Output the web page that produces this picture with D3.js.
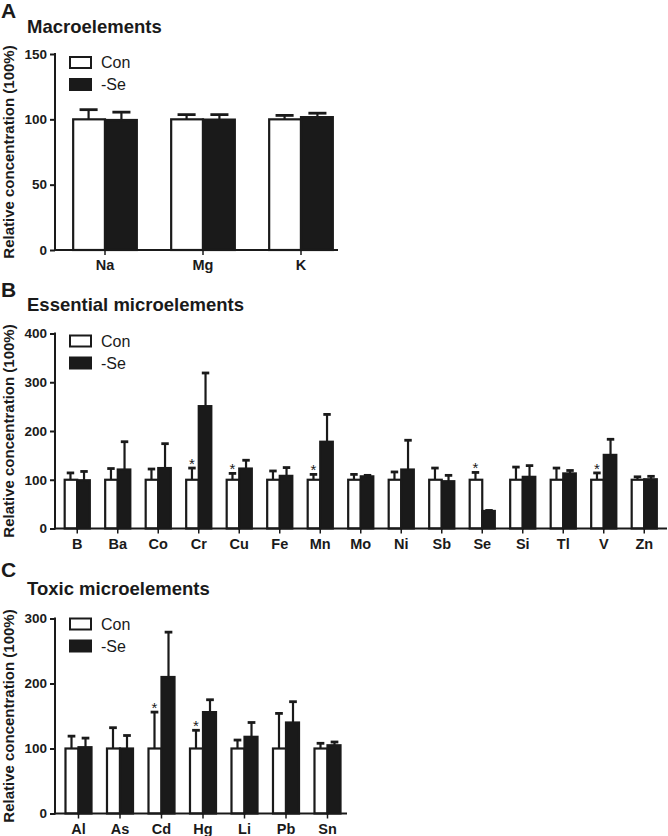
<!DOCTYPE html>
<html>
<head>
<meta charset="utf-8">
<script src="https://cdn.jsdelivr.net/npm/d3@7"></script>
<style>
  body { margin: 0; background: #fff; }
  svg { display: block; }
  text { font-family: "Liberation Sans", Arial, sans-serif; fill: #1a1a1a; }
</style>
</head>
<body>
<svg id="chart" width="668" height="836"></svg>
<script>
// ---------- data ----------
const legendLabels = ["Con", "-Se"];

const macroCats   = ["Na", "Mg", "K"];
const macroCon    = [100, 100, 100];
const macroConErr = [7.4, 3.6, 3.0];
const macroSe     = [99.5, 99.8, 101.7];
const macroSeErr  = [6.0, 3.8, 3.0];
const macroSig    = [];
const macroTicks  = [0, 50, 100, 150];

const essCats   = ["B","Ba","Co","Cr","Cu","Fe","Mn","Mo","Ni","Sb","Se","Si","Tl","V","Zn"];
const essCon    = [100,100,100,100,100,100,100,100,100,100,100,100,100,100,100];
const essConErr = [14, 23, 22, 24, 13, 18, 11, 11, 16, 24, 15, 26, 24, 14, 6];
const essSe     = [99, 121, 124, 251, 123, 108, 178, 107, 121, 97, 36, 106, 113, 151, 101];
const essSeErr  = [18, 57, 50, 68, 17, 17, 56, 2, 60, 12, 1, 23, 6, 32, 6];
const essSig    = ["Cr", "Cu", "Mn", "Se", "V"];
const essTicks  = [0, 100, 200, 300, 400];

const toxCats   = ["Al","As","Cd","Hg","Li","Pb","Sn"];
const toxCon    = [100,100,100,100,100,100,100];
const toxConErr = [19, 32, 56, 28, 13, 54, 8];
const toxSe     = [102, 100, 210, 156, 118, 140, 105];
const toxSeErr  = [14, 20, 69, 19, 22, 32, 5];
const toxSig    = ["Cd", "Hg"];
const toxTicks  = [0, 100, 200, 300];

// ---------- drawing ----------
const svg = d3.select("#chart");
const INK = "#1a1a1a";
const FONT = "'Liberation Sans', Arial, sans-serif";

function panel(cfg) {
  const g = svg.append("g");
  const x = d3.scaleBand().domain(cfg.cats).range(cfg.xr)
    .paddingInner(cfg.pad).paddingOuter(cfg.pad / 2);
  const y = d3.scaleLinear().domain([0, cfg.ticks[cfg.ticks.length - 1]]).range(cfg.yr);
  const half = x.bandwidth() / 2;
  const capW = half * 0.55;

  // letter + title
  g.append("text").attr("x", 1).attr("y", cfg.letterY).attr("font-size", 21)
    .attr("font-weight", "bold").text(cfg.letter);
  g.append("text").attr("x", 27).attr("y", cfg.titleY).attr("font-size", 18.5)
    .attr("font-weight", "bold").text(cfg.title);

  // y axis title
  const yMid = (cfg.yr[0] + cfg.yr[1]) / 2;
  g.append("text").attr("transform", `translate(14,${yMid}) rotate(-90)`)
    .attr("text-anchor", "middle").attr("font-size", 15).attr("font-weight", "bold")
    .text("Relative concentration (100%)");

  const rows = cfg.cats.map((c, i) => ({
    c, con: cfg.con[i], conErr: cfg.conErr[i], se: cfg.se[i], seErr: cfg.seErr[i],
    sig: cfg.sig.includes(c)
  }));

  // error bars
  const eb = g.append("g").attr("stroke", INK).attr("stroke-width", 2.2).attr("fill", "none");
  rows.forEach(d => {
    const cx1 = x(d.c) + half / 2, cx2 = x(d.c) + half * 1.5;
    [[cx1, d.con, d.conErr], [cx2, d.se, d.seErr]].forEach(([cx, v, e]) => {
      eb.append("line").attr("x1", cx).attr("x2", cx).attr("y1", y(v)).attr("y2", y(v + e));
      eb.append("line").attr("x1", cx - capW / 2).attr("x2", cx + capW / 2)
        .attr("y1", y(v + e)).attr("y2", y(v + e)).attr("stroke-width", 2.8);
    });
  });

  // bars
  g.append("g").selectAll("rect").data(rows).join("rect")
    .attr("x", d => x(d.c) + 1).attr("width", half - 1)
    .attr("y", d => y(d.con)).attr("height", d => y(0) - y(d.con))
    .attr("fill", "#fff").attr("stroke", INK).attr("stroke-width", 2.2);
  g.append("g").selectAll("rect").data(rows).join("rect")
    .attr("x", d => x(d.c) + half).attr("width", half - 1)
    .attr("y", d => y(d.se)).attr("height", d => y(0) - y(d.se))
    .attr("fill", INK).attr("stroke", INK).attr("stroke-width", 2.2);

  // significance asterisks
  g.append("g").selectAll("text").data(rows.filter(d => d.sig)).join("text")
    .attr("x", d => x(d.c) + half / 2).attr("y", d => y(d.con + d.conErr) + 1)
    .attr("text-anchor", "middle").attr("font-size", 15).text("*");

  // y axis
  const ya = g.append("g").attr("transform", `translate(${cfg.axisX},0)`)
    .call(d3.axisLeft(y).tickValues(cfg.ticks).tickSize(5).tickPadding(3).tickFormat(d3.format("d")));
  ya.select(".domain").attr("stroke", INK).attr("stroke-width", 2).attr("d", `M0,${cfg.yr[1] - 1}V${cfg.yr[0] + 1}`);
  ya.selectAll(".tick line").attr("stroke", INK).attr("stroke-width", 2);
  ya.selectAll(".tick text").attr("font-size", 13.5).attr("font-weight", "bold")
    .attr("font-family", FONT).attr("fill", INK);

  // x axis
  const xa = g.append("g").attr("transform", `translate(0,${cfg.yr[0]})`)
    .call(d3.axisBottom(x).tickSize(5).tickPadding(5));
  xa.select(".domain").attr("stroke", INK).attr("stroke-width", 2)
    .attr("d", `M${cfg.axisX - 1},0H${cfg.xEnd}`);
  xa.selectAll(".tick line").attr("stroke", INK).attr("stroke-width", 1.5);
  xa.selectAll(".tick text").attr("font-size", 14.5).attr("font-weight", "bold")
    .attr("font-family", FONT).attr("fill", INK);

  // legend
  const top = cfg.yr[1];
  const lg = g.append("g");
  legendLabels.forEach((lab, i) => {
    const ry = top + cfg.legOff + i * 22;
    lg.append("rect").attr("x", 70).attr("y", ry).attr("width", 21).attr("height", 11)
      .attr("fill", i === 0 ? "#fff" : INK).attr("stroke", INK).attr("stroke-width", 2);
    lg.append("text").attr("x", 101).attr("y", ry + 11).attr("font-size", 16).text(lab);
  });
}

panel({
  letter: "A", letterY: 18, title: "Macroelements", titleY: 33,
  cats: macroCats, con: macroCon, conErr: macroConErr, se: macroSe, seErr: macroSeErr, sig: macroSig,
  ticks: macroTicks, xr: [56, 350], pad: 0.33, axisX: 55, xEnd: 338, yr: [250, 54], legOff: 3
});
panel({
  letter: "B", letterY: 297, title: "Essential microelements", titleY: 311,
  cats: essCats, con: essCon, conErr: essConErr, se: essSe, seErr: essSeErr, sig: essSig,
  ticks: essTicks, xr: [57, 664.5], pad: 0.33, axisX: 55, xEnd: 667, yr: [528.5, 333.5], legOff: 2
});
panel({
  letter: "C", letterY: 577, title: "Toxic microelements", titleY: 595,
  cats: toxCats, con: toxCon, conErr: toxConErr, se: toxSe, seErr: toxSeErr, sig: toxSig,
  ticks: toxTicks, xr: [57.75, 348.25], pad: 0.325, axisX: 55, xEnd: 347, yr: [813.5, 618.5], legOff: 0
});
</script>
</body>
</html>
